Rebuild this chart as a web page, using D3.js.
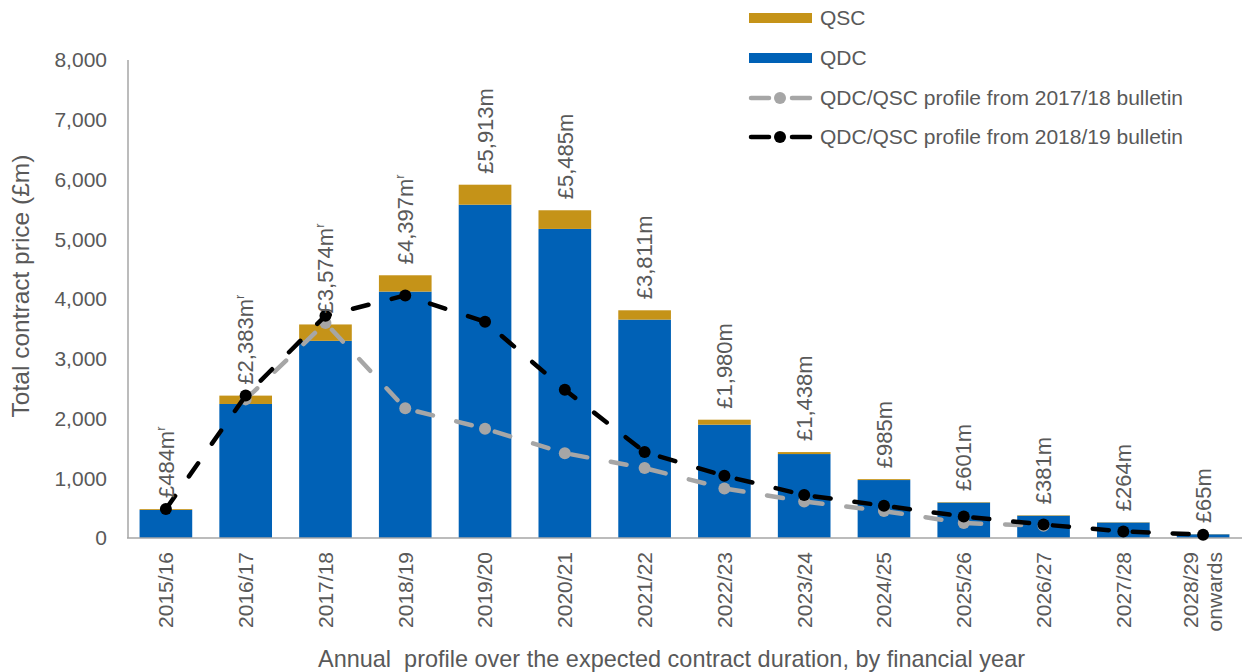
<!DOCTYPE html>
<html>
<head>
<meta charset="utf-8">
<script src="https://cdn.jsdelivr.net/npm/d3@7"></script>
<style>
  html, body { margin: 0; padding: 0; background: #fff; }
  svg { display: block; font-family: "Liberation Sans", Arial, sans-serif; }
</style>
</head>
<body>
<svg id="chart" width="1242" height="672"></svg>
<script>
// Financial years on the x axis
const categories = ["2015/16", "2016/17", "2017/18", "2018/19", "2019/20", "2020/21", "2021/22",
  "2022/23", "2023/24", "2024/25", "2025/26", "2026/27", "2027/28", "2028/29 onwards"];

// Stacked bar components (£m)
const qdc = [470, 2243, 3300, 4124, 5578, 5173, 3655, 1896, 1405, 970, 593, 373, 259, 62];
const qsc = [14, 140, 274, 273, 335, 312, 156, 84, 33, 15, 8, 8, 5, 3];

// Totals flagged as revised carry a superscript "r"
const revised = [true, true, true, true, false, false, false, false, false, false, false, false, false, false];

// Earlier published profiles (£m)
const profile2017 = [null, 2320, 3600, 2170, 1830, 1420, 1170, 830, 610, 450, 250, 205, null, null];
const profile2018 = [484, 2383, 3720, 4060, 3620, 2480, 1440, 1040, 720, 540, 360, 225, 110, 55];

const yTicks = [0, 1000, 2000, 3000, 4000, 5000, 6000, 7000, 8000];

const seriesNames = ["QSC", "QDC", "QDC/QSC profile from 2017/18 bulletin", "QDC/QSC profile from 2018/19 bulletin"];

const COL_QDC = "#0061B6";
const COL_QSC = "#C59318";
const COL_GREY = "#A6A6A6";
const COL_TEXT = "#595959";

const svg = d3.select("#chart");

const x = d3.scaleBand()
  .domain(categories)
  .range([126, 1243])
  .paddingInner(0.34)
  .paddingOuter(0.17);

const y = d3.scaleLinear().domain([0, 8000]).range([538, 60]);

const fmt = d3.format(",");

// Y tick labels
svg.append("g").selectAll("text")
  .data(yTicks)
  .join("text")
  .attr("x", 107)
  .attr("y", d => y(d))
  .attr("dy", "0.35em")
  .attr("text-anchor", "end")
  .attr("font-size", 21)
  .attr("fill", COL_TEXT)
  .text(d => fmt(d));

// Stacked bars
const rows = categories.map((c, i) => ({ cat: c, QDC: qdc[i], QSC: qsc[i] }));
const stack = d3.stack().keys(["QDC", "QSC"])(rows);
const colours = { QDC: COL_QDC, QSC: COL_QSC };

svg.append("g").selectAll("g")
  .data(stack)
  .join("g")
  .attr("fill", s => colours[s.key])
  .selectAll("rect")
  .data(s => s)
  .join("rect")
  .attr("x", d => x(d.data.cat))
  .attr("width", x.bandwidth())
  .attr("y", d => y(d[1]))
  .attr("height", d => y(d[0]) - y(d[1]));

// Axis lines
svg.append("line")
  .attr("x1", 128).attr("x2", 128)
  .attr("y1", y(8000)).attr("y2", y(0))
  .attr("stroke", COL_GREY).attr("stroke-width", 1.5);
svg.append("line")
  .attr("x1", 127).attr("x2", 1242)
  .attr("y1", y(0)).attr("y2", y(0))
  .attr("stroke", COL_GREY).attr("stroke-width", 1.5);

// Profile lines
function drawProfile(values, colour) {
  const pts = categories.map((c, i) => ({ cat: c, v: values[i] })).filter(d => d.v !== null);
  const line = d3.line()
    .x(d => x(d.cat) + x.bandwidth() / 2)
    .y(d => y(d.v));
  const g = svg.append("g");
  g.append("path")
    .datum(pts)
    .attr("d", line)
    .attr("fill", "none")
    .attr("stroke", colour)
    .attr("stroke-width", 4.5)
    .attr("stroke-linecap", "round")
    .attr("stroke-dasharray", "16,24");
  g.selectAll("circle")
    .data(pts)
    .join("circle")
    .attr("cx", d => x(d.cat) + x.bandwidth() / 2)
    .attr("cy", d => y(d.v))
    .attr("r", 6)
    .attr("fill", colour);
}
drawProfile(profile2017, COL_GREY);
drawProfile(profile2018, "#000000");

// Total value labels above each bar
const labels = svg.append("g").selectAll("text")
  .data(categories.map((c, i) => ({ cat: c, total: qdc[i] + qsc[i], r: revised[i] })))
  .join("text")
  .attr("transform", d => `translate(${x(d.cat) + x.bandwidth() / 2},${y(d.total) - 11}) rotate(-90)`)
  .attr("dy", "0.35em")
  .attr("font-size", 22)
  .attr("fill", COL_TEXT);
labels.append("tspan").text(d => "£" + fmt(d.total) + "m");
labels.filter(d => d.r).append("tspan")
  .attr("font-size", 13)
  .attr("dy", "-0.7em")
  .text("r");

// X tick labels (rotated)
const xl = svg.append("g").selectAll("text")
  .data(categories)
  .join("text")
  .attr("transform", d => `translate(${x(d) + x.bandwidth() / 2},552) rotate(-90)`)
  .attr("text-anchor", "end")
  .attr("font-size", 21)
  .attr("fill", COL_TEXT);
xl.each(function(d) {
  const parts = d.split(" ");
  const t = d3.select(this);
  if (parts.length === 1) {
    t.append("tspan").attr("x", 0).attr("dy", "0.35em").text(d);
  } else {
    t.append("tspan").attr("x", 0).attr("dy", "-0.25em").text(parts[0]);
    t.append("tspan").attr("x", 0).attr("dy", "1.15em").text(parts[1]);
  }
});

// Axis titles
svg.append("text")
  .attr("transform", "translate(20,286) rotate(-90)")
  .attr("text-anchor", "middle")
  .attr("dy", "0.35em")
  .attr("font-size", 24.5)
  .attr("fill", COL_TEXT)
  .text("Total contract price (£m)");

svg.append("text")
  .attr("x", 318)
  .attr("y", 667)
  .attr("font-family", "'Liberation Sans Narrow', 'Liberation Sans', Arial, sans-serif")
  .attr("font-size", 24)
  .attr("textLength", 707)
  .attr("lengthAdjust", "spacingAndGlyphs")
  .attr("fill", COL_TEXT)
  .text("Annual\u00a0 profile over the expected contract duration, by financial year");

// Legend
const legend = svg.append("g");
const legendRows = [
  { name: seriesNames[0], type: "bar", colour: COL_QSC, cy: 18 },
  { name: seriesNames[1], type: "bar", colour: COL_QDC, cy: 58 },
  { name: seriesNames[2], type: "line", colour: COL_GREY, cy: 98 },
  { name: seriesNames[3], type: "line", colour: "#000000", cy: 137 }
];
legendRows.forEach(r => {
  if (r.type === "bar") {
    legend.append("rect")
      .attr("x", 749).attr("y", r.cy - 5).attr("width", 63).attr("height", 10)
      .attr("fill", r.colour);
  } else {
    legend.append("line")
      .attr("x1", 751).attr("x2", 769).attr("y1", r.cy).attr("y2", r.cy)
      .attr("stroke", r.colour).attr("stroke-width", 4.5).attr("stroke-linecap", "round");
    legend.append("line")
      .attr("x1", 792).attr("x2", 810).attr("y1", r.cy).attr("y2", r.cy)
      .attr("stroke", r.colour).attr("stroke-width", 4.5).attr("stroke-linecap", "round");
    legend.append("circle")
      .attr("cx", 780).attr("cy", r.cy).attr("r", 6)
      .attr("fill", r.colour);
  }
  legend.append("text")
    .attr("x", 820).attr("y", r.cy)
    .attr("dy", "0.35em")
    .attr("font-size", 21)
    .attr("fill", COL_TEXT)
    .text(r.name);
});
</script>
</body>
</html>
